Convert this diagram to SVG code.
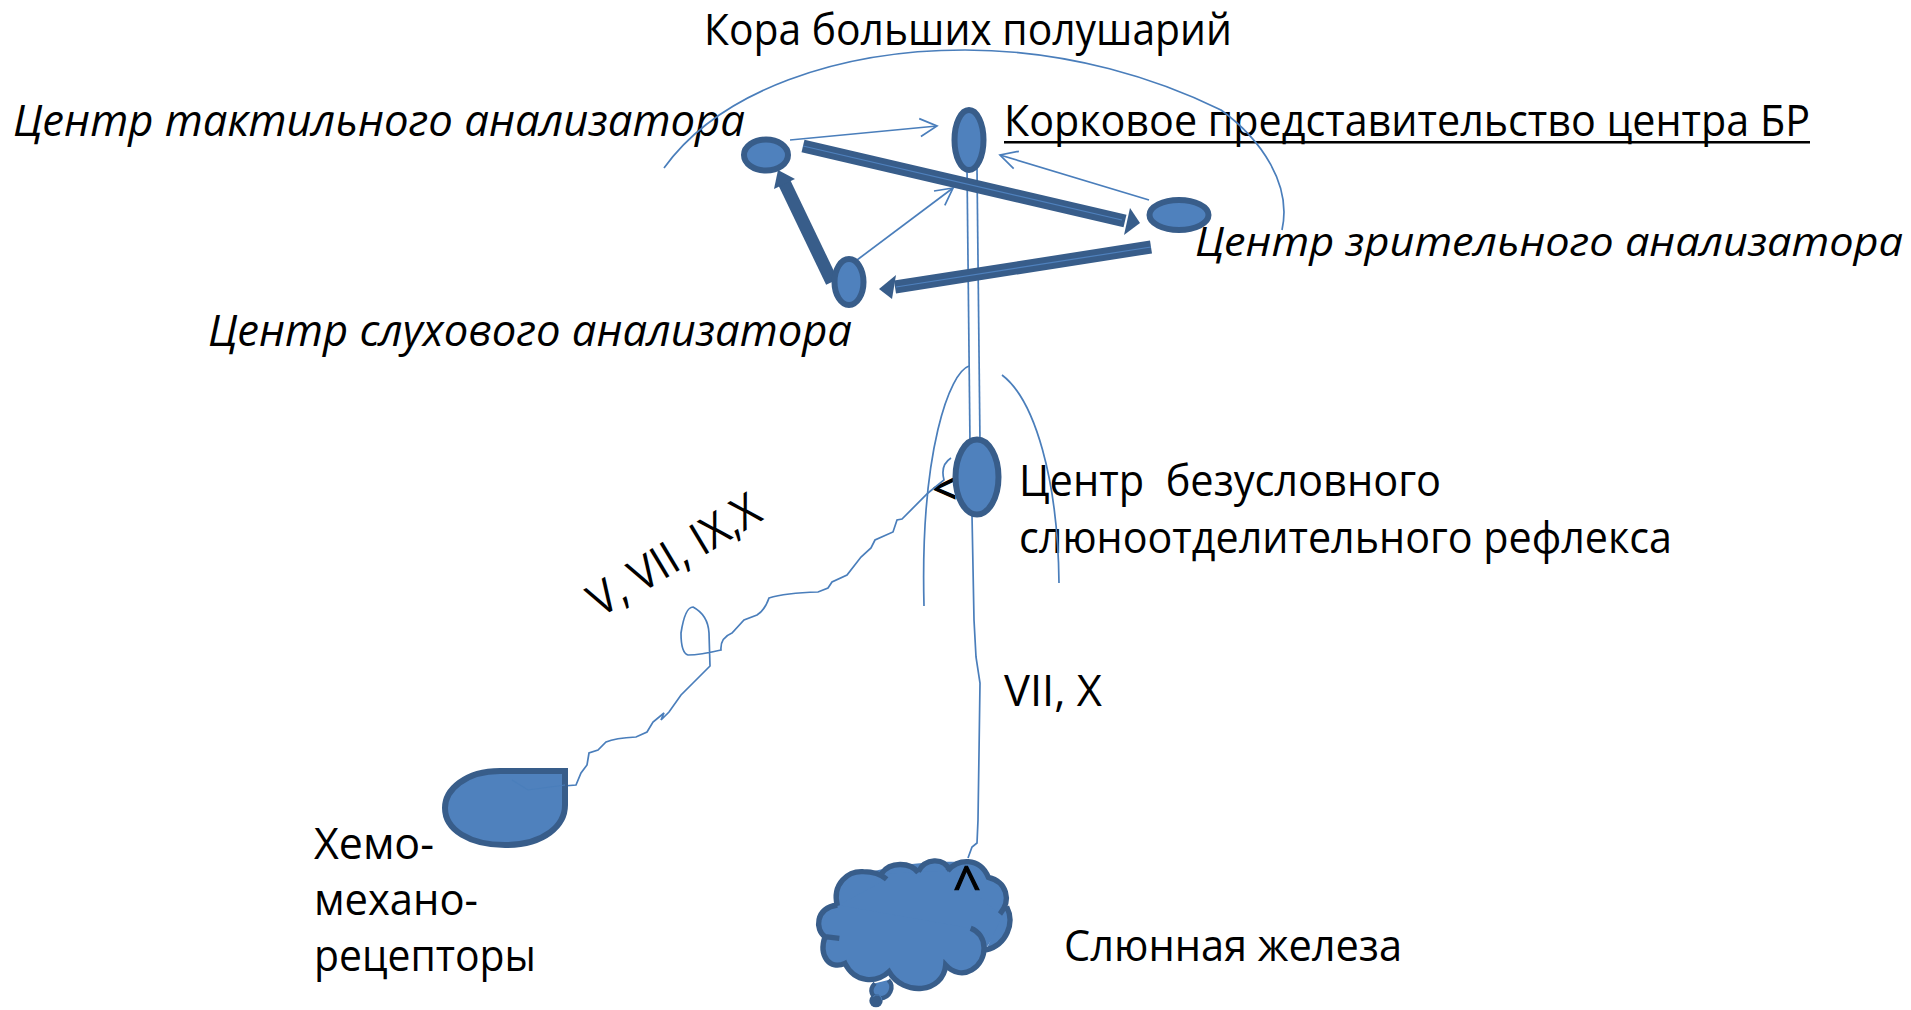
<svg xmlns="http://www.w3.org/2000/svg" width="1911" height="1010" viewBox="0 0 1911 1010">
<style>
text{font-family:"Open Sans","Noto Sans","Liberation Sans",sans-serif;font-size:44px;fill:#000}
.i{font-style:italic}
.m{stroke:#000;stroke-width:1.2}
.n{fill:#4F81BD;stroke:#385D8A;stroke-width:6}
.t{fill:none;stroke:#4A7EBB;stroke-width:1.7}
.a{marker-end:url(#open)}
.b{fill:none;stroke:#385D8A;stroke-width:13}
.c{fill:none;stroke:#4F81BD;stroke-width:1.2}
</style>
<defs>
<marker id="open" markerUnits="userSpaceOnUse" markerWidth="24" markerHeight="24" refX="20" refY="12" orient="auto"><path d="M3,3 L20,12 L3,21" fill="none" stroke="#4A7EBB" stroke-width="1.7"/></marker>
</defs>
<rect width="1911" height="1010" fill="#fff"/>
<g id="labels">
<text x="704" y="45" textLength="528" lengthAdjust="spacingAndGlyphs">Кора больших полушарий</text>
<text class="i" x="13" y="136" textLength="732" lengthAdjust="spacingAndGlyphs">Центр тактильного анализатора</text>
<text x="1004" y="136" textLength="806" lengthAdjust="spacingAndGlyphs">Корковое представительство центра БР</text>
<rect x="1004" y="141" width="806" height="2.5" fill="#000"/>
<text class="i" x="1195" y="256" style="font-size:41px" textLength="708" lengthAdjust="spacingAndGlyphs">Центр зрительного анализатора</text>
<text class="i" x="208" y="346" textLength="644" lengthAdjust="spacingAndGlyphs">Центр слухового анализатора</text>
<text x="1019" y="496" textLength="422" lengthAdjust="spacingAndGlyphs" xml:space="preserve">Центр  безусловного</text>
<text x="1019" y="553" textLength="653" lengthAdjust="spacingAndGlyphs">слюноотделительного рефлекса</text>
<text x="1004" y="706" textLength="98" lengthAdjust="spacingAndGlyphs">VII, X</text>
<text x="600" y="618" transform="rotate(-31 600 618)" style="font-size:46px" textLength="192" lengthAdjust="spacingAndGlyphs">V, VII, IX,X</text>
<text x="314" y="859" textLength="120" lengthAdjust="spacingAndGlyphs">Хемо-</text>
<text x="314" y="915" textLength="164" lengthAdjust="spacingAndGlyphs">механо-</text>
<text x="314" y="971" textLength="222" lengthAdjust="spacingAndGlyphs">рецепторы</text>
<text x="1064" y="961" textLength="338" lengthAdjust="spacingAndGlyphs">Слюнная железа</text>
<text class="m" x="932" y="504">&lt;</text>
</g>
<g id="connectors">
<path class="t" d="M664,168 C720,90 840,50 965,50 C1070,50 1160,80 1221,110 C1262,140 1292,185 1282,230"/>
<path class="t" d="M967,168 L970,442"/>
<path class="t" d="M977,168 L980,442"/>
<path class="t" d="M969,366 C950,372 920,450 924,606"/>
<path class="t" d="M1002,375 C1035,400 1058,480 1059,583"/>
<path class="t" d="M972,515 L974,620 L976,657 L980,683 L979,753 L978,820 L977,843 L972,847 L968,858"/>
<path class="t" d="M512,780 L520,784 L528,790 L550,787 L576,785 L581,773 L587,765 L589,753 L598,750 L606,742 Q615,738 636,737 L647,732 L653,722 L664,713 L661,720 L669,712 L681,695 L693,683 L710,666 L709,633 Q708,615 693,607 Q685,607 681,633 Q681,653 688,655 Q700,655 721,650 Q720,638 732,633 L744,620 L757,615 Q765,610 769,598 Q785,593 818,592 L828,588 L832,582 L847,575 L861,557 L871,548 L875,540 L893,532 L897,520 L902,519 L928,493 L944,480 Q940,465 951,458"/>
<path class="t a" d="M790,140 L937,126"/>
<path class="t a" d="M1149,200 L1000,155"/>
<path class="t a" d="M857,260 L953,188"/>
<g>
<path class="b" d="M803,146 L1125,221"/><path fill="#385D8A" d="M1130,208 L1140,223 L1124,235 Z"/><path class="c" d="M803,146 L1122,220"/>
<path class="b" d="M1151,247 L895,287"/><path fill="#385D8A" d="M896,275 L879,289 L892,299 Z"/><path class="c" d="M1151,247 L896,287"/>
<path class="b" d="M832,282 L784,182"/><path fill="#385D8A" d="M778,170 L795,179 L774,189 Z"/>
</g>
</g>
<g id="node-tactile"><ellipse class="n" cx="766" cy="155" rx="22" ry="15.5"/></g>
<g id="node-cortical"><ellipse class="n" cx="969" cy="140" rx="14.5" ry="30"/></g>
<g id="node-visual"><ellipse class="n" cx="1179" cy="215" rx="29.5" ry="15"/></g>
<g id="node-auditory"><ellipse class="n" cx="849" cy="282" rx="14.5" ry="23"/></g>
<g id="node-center"><ellipse class="n" cx="977" cy="477" rx="21.5" ry="37.5"/></g>
<g id="node-receptor"><path class="n" d="M500,771 C465,771 445,790 445,808 C445,830 470,845 505,845 C545,845 565,825 565,805 L565,771 Z"/><path fill="none" stroke="#4A7EBB" stroke-width="1.2" d="M512,780 L528,790 L565,785"/></g>
<g id="node-gland" transform="translate(780 820) scale(.33333)">
<polygon points="170,250 250,160 365,135 465,125 565,125 620,170 670,230 675,300 618,385 500,450 330,460 190,430 150,350" fill="#4F81BD"/>
<path fill="#4F81BD" stroke="#385D8A" stroke-width="16" d="M172,258 C155,190 205,152 250,155 C280,155 305,165 320,178 M305,160 C330,125 390,125 415,158 M415,155 C435,115 490,110 510,152 M503,153 C530,115 600,110 625,172 C680,185 695,240 660,282 M680,260 C705,310 680,375 618,390 M572,325 C625,345 625,420 575,450 C550,465 520,460 497,435 C490,520 370,530 327,455 C290,490 225,490 195,430 C150,450 115,410 135,350 C105,330 105,265 172,255 M135,350 L178,355"/>
<path fill="#4F81BD" stroke="#385D8A" stroke-width="13" d="M285,490 C265,510 275,535 300,535 C330,535 345,500 325,480"/>
<circle cx="288" cy="542" r="20" fill="#385D8A"/>
<path fill="none" stroke="#4A7EBB" stroke-width="3" d="M280,530 A14,14 0 0 1 305,540"/>
</g>
<g id="labels-on-gland"><text class="m" x="966" y="895" text-anchor="middle" transform="rotate(90 966 878)" style="font-size:50px">&lt;</text></g>
</svg>
